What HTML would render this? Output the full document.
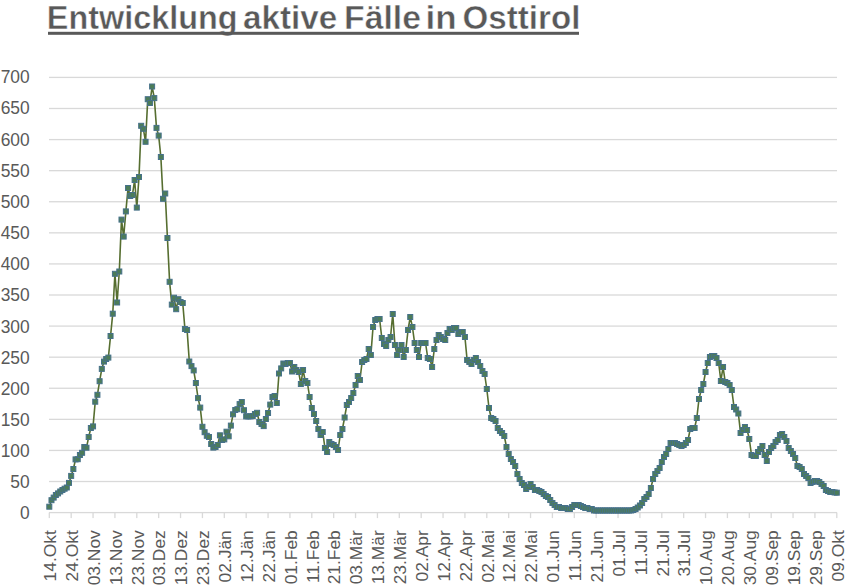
<!DOCTYPE html><html><head><meta charset="utf-8"><style>html,body{margin:0;padding:0;background:#fff;}body{width:852px;height:586px;overflow:hidden;}svg{display:block;}text{font-family:"Liberation Sans",sans-serif;}</style></head><body>
<svg width="852" height="586" viewBox="0 0 852 586">
<rect width="852" height="586" fill="#fff"/>
<text x="46.8" y="28.8" font-size="32.7" font-weight="bold" textLength="190.8" lengthAdjust="spacingAndGlyphs" fill="#595959" stroke="#fff" stroke-width="0.45">Entwicklung</text>
<text x="243.0" y="28.8" font-size="32.7" font-weight="bold" textLength="94.2" lengthAdjust="spacingAndGlyphs" fill="#595959" stroke="#fff" stroke-width="0.45">aktive</text>
<text x="344.0" y="28.8" font-size="32.7" font-weight="bold" textLength="77.0" lengthAdjust="spacingAndGlyphs" fill="#595959" stroke="#fff" stroke-width="0.45">Fälle</text>
<text x="425.5" y="28.8" font-size="32.7" font-weight="bold" textLength="31.1" lengthAdjust="spacingAndGlyphs" fill="#595959" stroke="#fff" stroke-width="0.45">in</text>
<text x="462.6" y="28.8" font-size="32.7" font-weight="bold" textLength="117.8" lengthAdjust="spacingAndGlyphs" fill="#595959" stroke="#fff" stroke-width="0.45">Osttirol</text>
<rect x="48" y="31.8" width="531" height="3" fill="#595959"/>
<rect x="49" y="511.95" width="788" height="1.3" fill="#d9d9d9"/>
<text transform="translate(29.7,512.55) scale(1,1.09)" x="0" y="0" dy="0.36em" text-anchor="end" font-size="17.4" fill="#595959">0</text>
<rect x="49" y="480.87" width="788" height="1.3" fill="#d9d9d9"/>
<text transform="translate(29.7,481.40) scale(1,1.09)" x="0" y="0" dy="0.36em" text-anchor="end" font-size="17.4" fill="#595959">50</text>
<rect x="49" y="449.78" width="788" height="1.3" fill="#d9d9d9"/>
<text transform="translate(29.7,450.26) scale(1,1.09)" x="0" y="0" dy="0.36em" text-anchor="end" font-size="17.4" fill="#595959">100</text>
<rect x="49" y="418.70" width="788" height="1.3" fill="#d9d9d9"/>
<text transform="translate(29.7,419.11) scale(1,1.09)" x="0" y="0" dy="0.36em" text-anchor="end" font-size="17.4" fill="#595959">150</text>
<rect x="49" y="387.61" width="788" height="1.3" fill="#d9d9d9"/>
<text transform="translate(29.7,387.97) scale(1,1.09)" x="0" y="0" dy="0.36em" text-anchor="end" font-size="17.4" fill="#595959">200</text>
<rect x="49" y="356.53" width="788" height="1.3" fill="#d9d9d9"/>
<text transform="translate(29.7,356.82) scale(1,1.09)" x="0" y="0" dy="0.36em" text-anchor="end" font-size="17.4" fill="#595959">250</text>
<rect x="49" y="325.44" width="788" height="1.3" fill="#d9d9d9"/>
<text transform="translate(29.7,325.68) scale(1,1.09)" x="0" y="0" dy="0.36em" text-anchor="end" font-size="17.4" fill="#595959">300</text>
<rect x="49" y="294.36" width="788" height="1.3" fill="#d9d9d9"/>
<text transform="translate(29.7,294.53) scale(1,1.09)" x="0" y="0" dy="0.36em" text-anchor="end" font-size="17.4" fill="#595959">350</text>
<rect x="49" y="263.27" width="788" height="1.3" fill="#d9d9d9"/>
<text transform="translate(29.7,263.39) scale(1,1.09)" x="0" y="0" dy="0.36em" text-anchor="end" font-size="17.4" fill="#595959">400</text>
<rect x="49" y="232.19" width="788" height="1.3" fill="#d9d9d9"/>
<text transform="translate(29.7,232.24) scale(1,1.09)" x="0" y="0" dy="0.36em" text-anchor="end" font-size="17.4" fill="#595959">450</text>
<rect x="49" y="201.10" width="788" height="1.3" fill="#d9d9d9"/>
<text transform="translate(29.7,201.10) scale(1,1.09)" x="0" y="0" dy="0.36em" text-anchor="end" font-size="17.4" fill="#595959">500</text>
<rect x="49" y="170.02" width="788" height="1.3" fill="#d9d9d9"/>
<text transform="translate(29.7,169.95) scale(1,1.09)" x="0" y="0" dy="0.36em" text-anchor="end" font-size="17.4" fill="#595959">550</text>
<rect x="49" y="138.93" width="788" height="1.3" fill="#d9d9d9"/>
<text transform="translate(29.7,138.81) scale(1,1.09)" x="0" y="0" dy="0.36em" text-anchor="end" font-size="17.4" fill="#595959">600</text>
<rect x="49" y="107.84" width="788" height="1.3" fill="#d9d9d9"/>
<text transform="translate(29.7,107.66) scale(1,1.09)" x="0" y="0" dy="0.36em" text-anchor="end" font-size="17.4" fill="#595959">650</text>
<rect x="49" y="76.76" width="788" height="1.3" fill="#d9d9d9"/>
<text transform="translate(29.7,76.52) scale(1,1.09)" x="0" y="0" dy="0.36em" text-anchor="end" font-size="17.4" fill="#595959">700</text>
<rect x="48.65" y="512.6" width="1.3" height="5.5" fill="#d9d9d9"/>
<text transform="translate(49.30,530.2) rotate(-90)" x="0" y="0" dy="6.8" text-anchor="end" font-size="17.4" fill="#595959">14.Okt</text>
<rect x="70.52" y="512.6" width="1.3" height="5.5" fill="#d9d9d9"/>
<text transform="translate(71.17,530.2) rotate(-90)" x="0" y="0" dy="6.8" text-anchor="end" font-size="17.4" fill="#595959">24.Okt</text>
<rect x="92.40" y="512.6" width="1.3" height="5.5" fill="#d9d9d9"/>
<text transform="translate(93.05,530.2) rotate(-90)" x="0" y="0" dy="6.8" text-anchor="end" font-size="17.4" fill="#595959">03.Nov</text>
<rect x="114.27" y="512.6" width="1.3" height="5.5" fill="#d9d9d9"/>
<text transform="translate(114.92,530.2) rotate(-90)" x="0" y="0" dy="6.8" text-anchor="end" font-size="17.4" fill="#595959">13.Nov</text>
<rect x="136.15" y="512.6" width="1.3" height="5.5" fill="#d9d9d9"/>
<text transform="translate(136.80,530.2) rotate(-90)" x="0" y="0" dy="6.8" text-anchor="end" font-size="17.4" fill="#595959">23.Nov</text>
<rect x="158.03" y="512.6" width="1.3" height="5.5" fill="#d9d9d9"/>
<text transform="translate(158.68,530.2) rotate(-90)" x="0" y="0" dy="6.8" text-anchor="end" font-size="17.4" fill="#595959">03.Dez</text>
<rect x="179.90" y="512.6" width="1.3" height="5.5" fill="#d9d9d9"/>
<text transform="translate(180.55,530.2) rotate(-90)" x="0" y="0" dy="6.8" text-anchor="end" font-size="17.4" fill="#595959">13.Dez</text>
<rect x="201.78" y="512.6" width="1.3" height="5.5" fill="#d9d9d9"/>
<text transform="translate(202.43,530.2) rotate(-90)" x="0" y="0" dy="6.8" text-anchor="end" font-size="17.4" fill="#595959">23.Dez</text>
<rect x="223.65" y="512.6" width="1.3" height="5.5" fill="#d9d9d9"/>
<text transform="translate(224.30,530.2) rotate(-90)" x="0" y="0" dy="6.8" text-anchor="end" font-size="17.4" fill="#595959">02.Jän</text>
<rect x="245.53" y="512.6" width="1.3" height="5.5" fill="#d9d9d9"/>
<text transform="translate(246.18,530.2) rotate(-90)" x="0" y="0" dy="6.8" text-anchor="end" font-size="17.4" fill="#595959">12.Jän</text>
<rect x="267.40" y="512.6" width="1.3" height="5.5" fill="#d9d9d9"/>
<text transform="translate(268.05,530.2) rotate(-90)" x="0" y="0" dy="6.8" text-anchor="end" font-size="17.4" fill="#595959">22.Jän</text>
<rect x="289.28" y="512.6" width="1.3" height="5.5" fill="#d9d9d9"/>
<text transform="translate(289.93,530.2) rotate(-90)" x="0" y="0" dy="6.8" text-anchor="end" font-size="17.4" fill="#595959">01.Feb</text>
<rect x="311.15" y="512.6" width="1.3" height="5.5" fill="#d9d9d9"/>
<text transform="translate(311.80,530.2) rotate(-90)" x="0" y="0" dy="6.8" text-anchor="end" font-size="17.4" fill="#595959">11.Feb</text>
<rect x="333.03" y="512.6" width="1.3" height="5.5" fill="#d9d9d9"/>
<text transform="translate(333.68,530.2) rotate(-90)" x="0" y="0" dy="6.8" text-anchor="end" font-size="17.4" fill="#595959">21.Feb</text>
<rect x="354.90" y="512.6" width="1.3" height="5.5" fill="#d9d9d9"/>
<text transform="translate(355.55,530.2) rotate(-90)" x="0" y="0" dy="6.8" text-anchor="end" font-size="17.4" fill="#595959">03.Mär</text>
<rect x="376.78" y="512.6" width="1.3" height="5.5" fill="#d9d9d9"/>
<text transform="translate(377.43,530.2) rotate(-90)" x="0" y="0" dy="6.8" text-anchor="end" font-size="17.4" fill="#595959">13.Mär</text>
<rect x="398.65" y="512.6" width="1.3" height="5.5" fill="#d9d9d9"/>
<text transform="translate(399.30,530.2) rotate(-90)" x="0" y="0" dy="6.8" text-anchor="end" font-size="17.4" fill="#595959">23.Mär</text>
<rect x="420.53" y="512.6" width="1.3" height="5.5" fill="#d9d9d9"/>
<text transform="translate(421.18,530.2) rotate(-90)" x="0" y="0" dy="6.8" text-anchor="end" font-size="17.4" fill="#595959">02.Apr</text>
<rect x="442.40" y="512.6" width="1.3" height="5.5" fill="#d9d9d9"/>
<text transform="translate(443.05,530.2) rotate(-90)" x="0" y="0" dy="6.8" text-anchor="end" font-size="17.4" fill="#595959">12.Apr</text>
<rect x="464.28" y="512.6" width="1.3" height="5.5" fill="#d9d9d9"/>
<text transform="translate(464.93,530.2) rotate(-90)" x="0" y="0" dy="6.8" text-anchor="end" font-size="17.4" fill="#595959">22.Apr</text>
<rect x="486.15" y="512.6" width="1.3" height="5.5" fill="#d9d9d9"/>
<text transform="translate(486.80,530.2) rotate(-90)" x="0" y="0" dy="6.8" text-anchor="end" font-size="17.4" fill="#595959">02.Mai</text>
<rect x="508.03" y="512.6" width="1.3" height="5.5" fill="#d9d9d9"/>
<text transform="translate(508.68,530.2) rotate(-90)" x="0" y="0" dy="6.8" text-anchor="end" font-size="17.4" fill="#595959">12.Mai</text>
<rect x="529.90" y="512.6" width="1.3" height="5.5" fill="#d9d9d9"/>
<text transform="translate(530.55,530.2) rotate(-90)" x="0" y="0" dy="6.8" text-anchor="end" font-size="17.4" fill="#595959">22.Mai</text>
<rect x="551.77" y="512.6" width="1.3" height="5.5" fill="#d9d9d9"/>
<text transform="translate(552.42,530.2) rotate(-90)" x="0" y="0" dy="6.8" text-anchor="end" font-size="17.4" fill="#595959">01.Jun</text>
<rect x="573.65" y="512.6" width="1.3" height="5.5" fill="#d9d9d9"/>
<text transform="translate(574.30,530.2) rotate(-90)" x="0" y="0" dy="6.8" text-anchor="end" font-size="17.4" fill="#595959">11.Jun</text>
<rect x="595.52" y="512.6" width="1.3" height="5.5" fill="#d9d9d9"/>
<text transform="translate(596.17,530.2) rotate(-90)" x="0" y="0" dy="6.8" text-anchor="end" font-size="17.4" fill="#595959">21.Jun</text>
<rect x="617.40" y="512.6" width="1.3" height="5.5" fill="#d9d9d9"/>
<text transform="translate(618.05,530.2) rotate(-90)" x="0" y="0" dy="6.8" text-anchor="end" font-size="17.4" fill="#595959">01.Jul</text>
<rect x="639.27" y="512.6" width="1.3" height="5.5" fill="#d9d9d9"/>
<text transform="translate(639.92,530.2) rotate(-90)" x="0" y="0" dy="6.8" text-anchor="end" font-size="17.4" fill="#595959">11.Jul</text>
<rect x="661.15" y="512.6" width="1.3" height="5.5" fill="#d9d9d9"/>
<text transform="translate(661.80,530.2) rotate(-90)" x="0" y="0" dy="6.8" text-anchor="end" font-size="17.4" fill="#595959">21.Jul</text>
<rect x="683.02" y="512.6" width="1.3" height="5.5" fill="#d9d9d9"/>
<text transform="translate(683.67,530.2) rotate(-90)" x="0" y="0" dy="6.8" text-anchor="end" font-size="17.4" fill="#595959">31.Jul</text>
<rect x="704.90" y="512.6" width="1.3" height="5.5" fill="#d9d9d9"/>
<text transform="translate(705.55,530.2) rotate(-90)" x="0" y="0" dy="6.8" text-anchor="end" font-size="17.4" fill="#595959">10.Aug</text>
<rect x="726.77" y="512.6" width="1.3" height="5.5" fill="#d9d9d9"/>
<text transform="translate(727.42,530.2) rotate(-90)" x="0" y="0" dy="6.8" text-anchor="end" font-size="17.4" fill="#595959">20.Aug</text>
<rect x="748.65" y="512.6" width="1.3" height="5.5" fill="#d9d9d9"/>
<text transform="translate(749.30,530.2) rotate(-90)" x="0" y="0" dy="6.8" text-anchor="end" font-size="17.4" fill="#595959">30.Aug</text>
<rect x="770.52" y="512.6" width="1.3" height="5.5" fill="#d9d9d9"/>
<text transform="translate(771.17,530.2) rotate(-90)" x="0" y="0" dy="6.8" text-anchor="end" font-size="17.4" fill="#595959">09.Sep</text>
<rect x="792.40" y="512.6" width="1.3" height="5.5" fill="#d9d9d9"/>
<text transform="translate(793.05,530.2) rotate(-90)" x="0" y="0" dy="6.8" text-anchor="end" font-size="17.4" fill="#595959">19.Sep</text>
<rect x="814.27" y="512.6" width="1.3" height="5.5" fill="#d9d9d9"/>
<text transform="translate(814.92,530.2) rotate(-90)" x="0" y="0" dy="6.8" text-anchor="end" font-size="17.4" fill="#595959">29.Sep</text>
<rect x="836.15" y="512.6" width="1.3" height="5.5" fill="#d9d9d9"/>
<text transform="translate(836.80,530.2) rotate(-90)" x="0" y="0" dy="6.8" text-anchor="end" font-size="17.4" fill="#595959">09.Okt</text>
<polyline points="49.30,506.70 51.49,500.20 53.67,497.60 55.86,495.00 58.05,493.40 60.24,491.50 62.42,490.00 64.61,488.70 66.80,487.50 68.99,482.90 71.17,475.90 73.36,469.00 75.55,459.40 77.74,459.20 79.92,455.00 82.11,452.80 84.30,447.00 86.49,447.70 88.67,437.00 90.86,428.00 93.05,426.40 95.24,401.70 97.42,394.80 99.61,381.20 101.80,368.90 103.99,361.60 106.17,359.00 108.36,357.60 110.55,336.00 112.74,313.70 114.92,273.80 117.11,302.50 119.30,271.50 121.49,219.60 123.67,236.60 125.86,211.40 128.05,188.00 130.24,196.00 132.43,195.00 134.61,180.00 136.80,207.60 138.99,177.00 141.18,125.80 143.36,128.80 145.55,141.80 147.74,99.20 149.93,103.00 152.11,86.50 154.30,98.10 156.49,127.90 158.68,135.60 160.86,157.00 163.05,198.80 165.24,193.50 167.43,238.00 169.61,281.80 171.80,304.60 173.99,297.70 176.18,309.20 178.36,299.20 180.55,302.00 182.74,303.00 184.93,329.00 187.11,330.00 189.30,361.50 191.49,366.10 193.68,370.40 195.86,383.00 198.05,398.10 200.24,407.60 202.43,426.80 204.61,432.20 206.80,435.80 208.99,437.00 211.18,444.00 213.36,447.60 215.55,447.00 217.74,445.00 219.93,435.30 222.11,440.00 224.30,439.40 226.49,431.70 228.68,436.30 230.86,425.60 233.05,414.30 235.24,410.00 237.43,409.20 239.61,404.10 241.80,402.00 243.99,410.20 246.18,416.40 248.36,416.40 250.55,416.40 252.74,416.00 254.93,414.00 257.11,412.80 259.30,422.00 261.49,424.00 263.68,426.10 265.86,419.00 268.05,413.00 270.24,404.60 272.43,397.00 274.61,396.00 276.80,403.00 278.99,373.50 281.18,368.40 283.36,363.50 285.55,364.00 287.74,363.00 289.93,363.00 292.11,371.50 294.30,367.00 296.49,370.00 298.68,372.00 300.86,384.00 303.05,370.00 305.24,381.00 307.43,383.00 309.61,397.00 311.80,408.00 313.99,414.00 316.18,421.00 318.36,429.00 320.55,435.00 322.74,432.00 324.93,448.00 327.11,452.00 329.30,442.00 331.49,444.00 333.68,445.00 335.86,447.00 338.05,450.00 340.24,435.00 342.43,429.00 344.61,417.50 346.80,405.00 348.99,402.00 351.18,398.00 353.36,393.00 355.55,385.00 357.74,376.00 359.93,380.00 362.11,362.00 364.30,360.00 366.49,359.00 368.68,349.00 370.86,355.00 373.05,327.00 375.24,320.00 377.43,319.00 379.61,319.00 381.80,338.00 383.99,344.00 386.18,346.00 388.36,340.00 390.55,337.00 392.74,314.00 394.93,345.00 397.11,355.00 399.30,350.00 401.49,345.00 403.68,357.00 405.86,350.00 408.05,330.00 410.24,317.00 412.43,327.00 414.61,343.00 416.80,350.00 418.99,357.00 421.18,343.00 423.36,343.00 425.55,343.00 427.74,358.00 429.93,359.00 432.11,367.00 434.30,349.00 436.49,340.00 438.68,335.00 440.86,337.00 443.05,339.00 445.24,340.00 447.43,333.00 449.61,329.00 451.80,330.00 453.99,328.00 456.18,328.00 458.36,334.00 460.55,332.00 462.74,332.00 464.93,337.00 467.11,360.00 469.30,362.00 471.49,364.00 473.68,360.00 475.86,358.00 478.05,362.00 480.24,366.00 482.43,371.00 484.61,374.00 486.80,389.00 488.99,408.00 491.18,418.00 493.36,419.00 495.55,421.00 497.74,428.00 499.93,431.00 502.11,433.00 504.30,436.00 506.49,447.00 508.68,454.00 510.86,459.00 513.05,462.00 515.24,466.00 517.42,474.00 519.61,479.00 521.80,483.00 523.99,485.00 526.17,489.00 528.36,487.00 530.55,484.00 532.74,487.00 534.92,490.00 537.11,490.00 539.30,491.00 541.49,492.00 543.67,494.00 545.86,496.00 548.05,497.00 550.24,500.00 552.42,503.00 554.61,505.00 556.80,507.00 558.99,507.00 561.17,508.00 563.36,508.00 565.55,508.00 567.74,509.00 569.92,509.00 572.11,507.00 574.30,505.00 576.49,505.00 578.67,505.00 580.86,506.00 583.05,507.00 585.24,508.00 587.42,508.00 589.61,509.00 591.80,509.00 593.99,510.50 596.17,510.50 598.36,510.50 600.55,510.50 602.74,510.50 604.92,510.50 607.11,510.50 609.30,510.50 611.49,510.50 613.67,510.50 615.86,510.50 618.05,510.50 620.24,510.50 622.42,510.50 624.61,510.50 626.80,510.50 628.99,510.50 631.17,510.50 633.36,510.00 635.55,509.00 637.74,507.50 639.92,505.50 642.11,503.00 644.30,499.00 646.49,497.00 648.67,494.00 650.86,488.00 653.05,479.00 655.24,474.00 657.42,471.00 659.61,468.00 661.80,462.00 663.99,457.00 666.17,454.00 668.36,449.00 670.55,443.00 672.74,443.00 674.92,443.00 677.11,444.00 679.30,445.00 681.49,446.00 683.67,445.00 685.86,443.00 688.05,440.00 690.24,429.00 692.42,428.00 694.61,428.00 696.80,418.00 698.99,399.00 701.17,390.00 703.36,384.00 705.55,372.00 707.74,363.00 709.92,357.00 712.11,356.00 714.30,356.00 716.49,358.00 718.67,363.00 720.86,381.00 723.05,367.00 725.24,382.00 727.42,383.00 729.61,385.00 731.80,390.00 733.99,407.00 736.17,409.50 738.36,413.50 740.55,433.00 742.74,430.00 744.92,427.00 747.11,430.00 749.30,439.00 751.49,455.00 753.67,456.00 755.86,456.00 758.05,452.00 760.24,449.00 762.42,446.00 764.61,455.00 766.80,461.00 768.99,452.00 771.17,448.00 773.36,446.00 775.55,442.00 777.74,440.00 779.92,435.00 782.11,434.00 784.30,437.00 786.49,441.00 788.67,448.00 790.86,451.00 793.05,454.00 795.24,458.00 797.42,466.00 799.61,467.00 801.80,469.00 803.99,474.00 806.17,476.00 808.36,478.00 810.55,483.00 812.74,482.00 814.92,481.00 817.11,481.00 819.30,482.00 821.49,484.00 823.67,486.00 825.86,490.00 828.05,491.00 830.24,492.00 832.42,492.00 834.61,492.50 836.80,492.70" fill="none" stroke="#566e30" stroke-width="1.6" stroke-linejoin="round"/>
<rect x="46.80" y="504.20" width="5.0" height="5.0" fill="#4c7c58" stroke="#46718a" stroke-width="1"/>
<rect x="48.99" y="497.70" width="5.0" height="5.0" fill="#4c7c58" stroke="#46718a" stroke-width="1"/>
<rect x="51.17" y="495.10" width="5.0" height="5.0" fill="#4c7c58" stroke="#46718a" stroke-width="1"/>
<rect x="53.36" y="492.50" width="5.0" height="5.0" fill="#4c7c58" stroke="#46718a" stroke-width="1"/>
<rect x="55.55" y="490.90" width="5.0" height="5.0" fill="#4c7c58" stroke="#46718a" stroke-width="1"/>
<rect x="57.74" y="489.00" width="5.0" height="5.0" fill="#4c7c58" stroke="#46718a" stroke-width="1"/>
<rect x="59.92" y="487.50" width="5.0" height="5.0" fill="#4c7c58" stroke="#46718a" stroke-width="1"/>
<rect x="62.11" y="486.20" width="5.0" height="5.0" fill="#4c7c58" stroke="#46718a" stroke-width="1"/>
<rect x="64.30" y="485.00" width="5.0" height="5.0" fill="#4c7c58" stroke="#46718a" stroke-width="1"/>
<rect x="66.49" y="480.40" width="5.0" height="5.0" fill="#4c7c58" stroke="#46718a" stroke-width="1"/>
<rect x="68.67" y="473.40" width="5.0" height="5.0" fill="#4c7c58" stroke="#46718a" stroke-width="1"/>
<rect x="70.86" y="466.50" width="5.0" height="5.0" fill="#4c7c58" stroke="#46718a" stroke-width="1"/>
<rect x="73.05" y="456.90" width="5.0" height="5.0" fill="#4c7c58" stroke="#46718a" stroke-width="1"/>
<rect x="75.24" y="456.70" width="5.0" height="5.0" fill="#4c7c58" stroke="#46718a" stroke-width="1"/>
<rect x="77.42" y="452.50" width="5.0" height="5.0" fill="#4c7c58" stroke="#46718a" stroke-width="1"/>
<rect x="79.61" y="450.30" width="5.0" height="5.0" fill="#4c7c58" stroke="#46718a" stroke-width="1"/>
<rect x="81.80" y="444.50" width="5.0" height="5.0" fill="#4c7c58" stroke="#46718a" stroke-width="1"/>
<rect x="83.99" y="445.20" width="5.0" height="5.0" fill="#4c7c58" stroke="#46718a" stroke-width="1"/>
<rect x="86.17" y="434.50" width="5.0" height="5.0" fill="#4c7c58" stroke="#46718a" stroke-width="1"/>
<rect x="88.36" y="425.50" width="5.0" height="5.0" fill="#4c7c58" stroke="#46718a" stroke-width="1"/>
<rect x="90.55" y="423.90" width="5.0" height="5.0" fill="#4c7c58" stroke="#46718a" stroke-width="1"/>
<rect x="92.74" y="399.20" width="5.0" height="5.0" fill="#4c7c58" stroke="#46718a" stroke-width="1"/>
<rect x="94.92" y="392.30" width="5.0" height="5.0" fill="#4c7c58" stroke="#46718a" stroke-width="1"/>
<rect x="97.11" y="378.70" width="5.0" height="5.0" fill="#4c7c58" stroke="#46718a" stroke-width="1"/>
<rect x="99.30" y="366.40" width="5.0" height="5.0" fill="#4c7c58" stroke="#46718a" stroke-width="1"/>
<rect x="101.49" y="359.10" width="5.0" height="5.0" fill="#4c7c58" stroke="#46718a" stroke-width="1"/>
<rect x="103.67" y="356.50" width="5.0" height="5.0" fill="#4c7c58" stroke="#46718a" stroke-width="1"/>
<rect x="105.86" y="355.10" width="5.0" height="5.0" fill="#4c7c58" stroke="#46718a" stroke-width="1"/>
<rect x="108.05" y="333.50" width="5.0" height="5.0" fill="#4c7c58" stroke="#46718a" stroke-width="1"/>
<rect x="110.24" y="311.20" width="5.0" height="5.0" fill="#4c7c58" stroke="#46718a" stroke-width="1"/>
<rect x="112.42" y="271.30" width="5.0" height="5.0" fill="#4c7c58" stroke="#46718a" stroke-width="1"/>
<rect x="114.61" y="300.00" width="5.0" height="5.0" fill="#4c7c58" stroke="#46718a" stroke-width="1"/>
<rect x="116.80" y="269.00" width="5.0" height="5.0" fill="#4c7c58" stroke="#46718a" stroke-width="1"/>
<rect x="118.99" y="217.10" width="5.0" height="5.0" fill="#4c7c58" stroke="#46718a" stroke-width="1"/>
<rect x="121.17" y="234.10" width="5.0" height="5.0" fill="#4c7c58" stroke="#46718a" stroke-width="1"/>
<rect x="123.36" y="208.90" width="5.0" height="5.0" fill="#4c7c58" stroke="#46718a" stroke-width="1"/>
<rect x="125.55" y="185.50" width="5.0" height="5.0" fill="#4c7c58" stroke="#46718a" stroke-width="1"/>
<rect x="127.74" y="193.50" width="5.0" height="5.0" fill="#4c7c58" stroke="#46718a" stroke-width="1"/>
<rect x="129.93" y="192.50" width="5.0" height="5.0" fill="#4c7c58" stroke="#46718a" stroke-width="1"/>
<rect x="132.11" y="177.50" width="5.0" height="5.0" fill="#4c7c58" stroke="#46718a" stroke-width="1"/>
<rect x="134.30" y="205.10" width="5.0" height="5.0" fill="#4c7c58" stroke="#46718a" stroke-width="1"/>
<rect x="136.49" y="174.50" width="5.0" height="5.0" fill="#4c7c58" stroke="#46718a" stroke-width="1"/>
<rect x="138.68" y="123.30" width="5.0" height="5.0" fill="#4c7c58" stroke="#46718a" stroke-width="1"/>
<rect x="140.86" y="126.30" width="5.0" height="5.0" fill="#4c7c58" stroke="#46718a" stroke-width="1"/>
<rect x="143.05" y="139.30" width="5.0" height="5.0" fill="#4c7c58" stroke="#46718a" stroke-width="1"/>
<rect x="145.24" y="96.70" width="5.0" height="5.0" fill="#4c7c58" stroke="#46718a" stroke-width="1"/>
<rect x="147.43" y="100.50" width="5.0" height="5.0" fill="#4c7c58" stroke="#46718a" stroke-width="1"/>
<rect x="149.61" y="84.00" width="5.0" height="5.0" fill="#4c7c58" stroke="#46718a" stroke-width="1"/>
<rect x="151.80" y="95.60" width="5.0" height="5.0" fill="#4c7c58" stroke="#46718a" stroke-width="1"/>
<rect x="153.99" y="125.40" width="5.0" height="5.0" fill="#4c7c58" stroke="#46718a" stroke-width="1"/>
<rect x="156.18" y="133.10" width="5.0" height="5.0" fill="#4c7c58" stroke="#46718a" stroke-width="1"/>
<rect x="158.36" y="154.50" width="5.0" height="5.0" fill="#4c7c58" stroke="#46718a" stroke-width="1"/>
<rect x="160.55" y="196.30" width="5.0" height="5.0" fill="#4c7c58" stroke="#46718a" stroke-width="1"/>
<rect x="162.74" y="191.00" width="5.0" height="5.0" fill="#4c7c58" stroke="#46718a" stroke-width="1"/>
<rect x="164.93" y="235.50" width="5.0" height="5.0" fill="#4c7c58" stroke="#46718a" stroke-width="1"/>
<rect x="167.11" y="279.30" width="5.0" height="5.0" fill="#4c7c58" stroke="#46718a" stroke-width="1"/>
<rect x="169.30" y="302.10" width="5.0" height="5.0" fill="#4c7c58" stroke="#46718a" stroke-width="1"/>
<rect x="171.49" y="295.20" width="5.0" height="5.0" fill="#4c7c58" stroke="#46718a" stroke-width="1"/>
<rect x="173.68" y="306.70" width="5.0" height="5.0" fill="#4c7c58" stroke="#46718a" stroke-width="1"/>
<rect x="175.86" y="296.70" width="5.0" height="5.0" fill="#4c7c58" stroke="#46718a" stroke-width="1"/>
<rect x="178.05" y="299.50" width="5.0" height="5.0" fill="#4c7c58" stroke="#46718a" stroke-width="1"/>
<rect x="180.24" y="300.50" width="5.0" height="5.0" fill="#4c7c58" stroke="#46718a" stroke-width="1"/>
<rect x="182.43" y="326.50" width="5.0" height="5.0" fill="#4c7c58" stroke="#46718a" stroke-width="1"/>
<rect x="184.61" y="327.50" width="5.0" height="5.0" fill="#4c7c58" stroke="#46718a" stroke-width="1"/>
<rect x="186.80" y="359.00" width="5.0" height="5.0" fill="#4c7c58" stroke="#46718a" stroke-width="1"/>
<rect x="188.99" y="363.60" width="5.0" height="5.0" fill="#4c7c58" stroke="#46718a" stroke-width="1"/>
<rect x="191.18" y="367.90" width="5.0" height="5.0" fill="#4c7c58" stroke="#46718a" stroke-width="1"/>
<rect x="193.36" y="380.50" width="5.0" height="5.0" fill="#4c7c58" stroke="#46718a" stroke-width="1"/>
<rect x="195.55" y="395.60" width="5.0" height="5.0" fill="#4c7c58" stroke="#46718a" stroke-width="1"/>
<rect x="197.74" y="405.10" width="5.0" height="5.0" fill="#4c7c58" stroke="#46718a" stroke-width="1"/>
<rect x="199.93" y="424.30" width="5.0" height="5.0" fill="#4c7c58" stroke="#46718a" stroke-width="1"/>
<rect x="202.11" y="429.70" width="5.0" height="5.0" fill="#4c7c58" stroke="#46718a" stroke-width="1"/>
<rect x="204.30" y="433.30" width="5.0" height="5.0" fill="#4c7c58" stroke="#46718a" stroke-width="1"/>
<rect x="206.49" y="434.50" width="5.0" height="5.0" fill="#4c7c58" stroke="#46718a" stroke-width="1"/>
<rect x="208.68" y="441.50" width="5.0" height="5.0" fill="#4c7c58" stroke="#46718a" stroke-width="1"/>
<rect x="210.86" y="445.10" width="5.0" height="5.0" fill="#4c7c58" stroke="#46718a" stroke-width="1"/>
<rect x="213.05" y="444.50" width="5.0" height="5.0" fill="#4c7c58" stroke="#46718a" stroke-width="1"/>
<rect x="215.24" y="442.50" width="5.0" height="5.0" fill="#4c7c58" stroke="#46718a" stroke-width="1"/>
<rect x="217.43" y="432.80" width="5.0" height="5.0" fill="#4c7c58" stroke="#46718a" stroke-width="1"/>
<rect x="219.61" y="437.50" width="5.0" height="5.0" fill="#4c7c58" stroke="#46718a" stroke-width="1"/>
<rect x="221.80" y="436.90" width="5.0" height="5.0" fill="#4c7c58" stroke="#46718a" stroke-width="1"/>
<rect x="223.99" y="429.20" width="5.0" height="5.0" fill="#4c7c58" stroke="#46718a" stroke-width="1"/>
<rect x="226.18" y="433.80" width="5.0" height="5.0" fill="#4c7c58" stroke="#46718a" stroke-width="1"/>
<rect x="228.36" y="423.10" width="5.0" height="5.0" fill="#4c7c58" stroke="#46718a" stroke-width="1"/>
<rect x="230.55" y="411.80" width="5.0" height="5.0" fill="#4c7c58" stroke="#46718a" stroke-width="1"/>
<rect x="232.74" y="407.50" width="5.0" height="5.0" fill="#4c7c58" stroke="#46718a" stroke-width="1"/>
<rect x="234.93" y="406.70" width="5.0" height="5.0" fill="#4c7c58" stroke="#46718a" stroke-width="1"/>
<rect x="237.11" y="401.60" width="5.0" height="5.0" fill="#4c7c58" stroke="#46718a" stroke-width="1"/>
<rect x="239.30" y="399.50" width="5.0" height="5.0" fill="#4c7c58" stroke="#46718a" stroke-width="1"/>
<rect x="241.49" y="407.70" width="5.0" height="5.0" fill="#4c7c58" stroke="#46718a" stroke-width="1"/>
<rect x="243.68" y="413.90" width="5.0" height="5.0" fill="#4c7c58" stroke="#46718a" stroke-width="1"/>
<rect x="245.86" y="413.90" width="5.0" height="5.0" fill="#4c7c58" stroke="#46718a" stroke-width="1"/>
<rect x="248.05" y="413.90" width="5.0" height="5.0" fill="#4c7c58" stroke="#46718a" stroke-width="1"/>
<rect x="250.24" y="413.50" width="5.0" height="5.0" fill="#4c7c58" stroke="#46718a" stroke-width="1"/>
<rect x="252.43" y="411.50" width="5.0" height="5.0" fill="#4c7c58" stroke="#46718a" stroke-width="1"/>
<rect x="254.61" y="410.30" width="5.0" height="5.0" fill="#4c7c58" stroke="#46718a" stroke-width="1"/>
<rect x="256.80" y="419.50" width="5.0" height="5.0" fill="#4c7c58" stroke="#46718a" stroke-width="1"/>
<rect x="258.99" y="421.50" width="5.0" height="5.0" fill="#4c7c58" stroke="#46718a" stroke-width="1"/>
<rect x="261.18" y="423.60" width="5.0" height="5.0" fill="#4c7c58" stroke="#46718a" stroke-width="1"/>
<rect x="263.36" y="416.50" width="5.0" height="5.0" fill="#4c7c58" stroke="#46718a" stroke-width="1"/>
<rect x="265.55" y="410.50" width="5.0" height="5.0" fill="#4c7c58" stroke="#46718a" stroke-width="1"/>
<rect x="267.74" y="402.10" width="5.0" height="5.0" fill="#4c7c58" stroke="#46718a" stroke-width="1"/>
<rect x="269.93" y="394.50" width="5.0" height="5.0" fill="#4c7c58" stroke="#46718a" stroke-width="1"/>
<rect x="272.11" y="393.50" width="5.0" height="5.0" fill="#4c7c58" stroke="#46718a" stroke-width="1"/>
<rect x="274.30" y="400.50" width="5.0" height="5.0" fill="#4c7c58" stroke="#46718a" stroke-width="1"/>
<rect x="276.49" y="371.00" width="5.0" height="5.0" fill="#4c7c58" stroke="#46718a" stroke-width="1"/>
<rect x="278.68" y="365.90" width="5.0" height="5.0" fill="#4c7c58" stroke="#46718a" stroke-width="1"/>
<rect x="280.86" y="361.00" width="5.0" height="5.0" fill="#4c7c58" stroke="#46718a" stroke-width="1"/>
<rect x="283.05" y="361.50" width="5.0" height="5.0" fill="#4c7c58" stroke="#46718a" stroke-width="1"/>
<rect x="285.24" y="360.50" width="5.0" height="5.0" fill="#4c7c58" stroke="#46718a" stroke-width="1"/>
<rect x="287.43" y="360.50" width="5.0" height="5.0" fill="#4c7c58" stroke="#46718a" stroke-width="1"/>
<rect x="289.61" y="369.00" width="5.0" height="5.0" fill="#4c7c58" stroke="#46718a" stroke-width="1"/>
<rect x="291.80" y="364.50" width="5.0" height="5.0" fill="#4c7c58" stroke="#46718a" stroke-width="1"/>
<rect x="293.99" y="367.50" width="5.0" height="5.0" fill="#4c7c58" stroke="#46718a" stroke-width="1"/>
<rect x="296.18" y="369.50" width="5.0" height="5.0" fill="#4c7c58" stroke="#46718a" stroke-width="1"/>
<rect x="298.36" y="381.50" width="5.0" height="5.0" fill="#4c7c58" stroke="#46718a" stroke-width="1"/>
<rect x="300.55" y="367.50" width="5.0" height="5.0" fill="#4c7c58" stroke="#46718a" stroke-width="1"/>
<rect x="302.74" y="378.50" width="5.0" height="5.0" fill="#4c7c58" stroke="#46718a" stroke-width="1"/>
<rect x="304.93" y="380.50" width="5.0" height="5.0" fill="#4c7c58" stroke="#46718a" stroke-width="1"/>
<rect x="307.11" y="394.50" width="5.0" height="5.0" fill="#4c7c58" stroke="#46718a" stroke-width="1"/>
<rect x="309.30" y="405.50" width="5.0" height="5.0" fill="#4c7c58" stroke="#46718a" stroke-width="1"/>
<rect x="311.49" y="411.50" width="5.0" height="5.0" fill="#4c7c58" stroke="#46718a" stroke-width="1"/>
<rect x="313.68" y="418.50" width="5.0" height="5.0" fill="#4c7c58" stroke="#46718a" stroke-width="1"/>
<rect x="315.86" y="426.50" width="5.0" height="5.0" fill="#4c7c58" stroke="#46718a" stroke-width="1"/>
<rect x="318.05" y="432.50" width="5.0" height="5.0" fill="#4c7c58" stroke="#46718a" stroke-width="1"/>
<rect x="320.24" y="429.50" width="5.0" height="5.0" fill="#4c7c58" stroke="#46718a" stroke-width="1"/>
<rect x="322.43" y="445.50" width="5.0" height="5.0" fill="#4c7c58" stroke="#46718a" stroke-width="1"/>
<rect x="324.61" y="449.50" width="5.0" height="5.0" fill="#4c7c58" stroke="#46718a" stroke-width="1"/>
<rect x="326.80" y="439.50" width="5.0" height="5.0" fill="#4c7c58" stroke="#46718a" stroke-width="1"/>
<rect x="328.99" y="441.50" width="5.0" height="5.0" fill="#4c7c58" stroke="#46718a" stroke-width="1"/>
<rect x="331.18" y="442.50" width="5.0" height="5.0" fill="#4c7c58" stroke="#46718a" stroke-width="1"/>
<rect x="333.36" y="444.50" width="5.0" height="5.0" fill="#4c7c58" stroke="#46718a" stroke-width="1"/>
<rect x="335.55" y="447.50" width="5.0" height="5.0" fill="#4c7c58" stroke="#46718a" stroke-width="1"/>
<rect x="337.74" y="432.50" width="5.0" height="5.0" fill="#4c7c58" stroke="#46718a" stroke-width="1"/>
<rect x="339.93" y="426.50" width="5.0" height="5.0" fill="#4c7c58" stroke="#46718a" stroke-width="1"/>
<rect x="342.11" y="415.00" width="5.0" height="5.0" fill="#4c7c58" stroke="#46718a" stroke-width="1"/>
<rect x="344.30" y="402.50" width="5.0" height="5.0" fill="#4c7c58" stroke="#46718a" stroke-width="1"/>
<rect x="346.49" y="399.50" width="5.0" height="5.0" fill="#4c7c58" stroke="#46718a" stroke-width="1"/>
<rect x="348.68" y="395.50" width="5.0" height="5.0" fill="#4c7c58" stroke="#46718a" stroke-width="1"/>
<rect x="350.86" y="390.50" width="5.0" height="5.0" fill="#4c7c58" stroke="#46718a" stroke-width="1"/>
<rect x="353.05" y="382.50" width="5.0" height="5.0" fill="#4c7c58" stroke="#46718a" stroke-width="1"/>
<rect x="355.24" y="373.50" width="5.0" height="5.0" fill="#4c7c58" stroke="#46718a" stroke-width="1"/>
<rect x="357.43" y="377.50" width="5.0" height="5.0" fill="#4c7c58" stroke="#46718a" stroke-width="1"/>
<rect x="359.61" y="359.50" width="5.0" height="5.0" fill="#4c7c58" stroke="#46718a" stroke-width="1"/>
<rect x="361.80" y="357.50" width="5.0" height="5.0" fill="#4c7c58" stroke="#46718a" stroke-width="1"/>
<rect x="363.99" y="356.50" width="5.0" height="5.0" fill="#4c7c58" stroke="#46718a" stroke-width="1"/>
<rect x="366.18" y="346.50" width="5.0" height="5.0" fill="#4c7c58" stroke="#46718a" stroke-width="1"/>
<rect x="368.36" y="352.50" width="5.0" height="5.0" fill="#4c7c58" stroke="#46718a" stroke-width="1"/>
<rect x="370.55" y="324.50" width="5.0" height="5.0" fill="#4c7c58" stroke="#46718a" stroke-width="1"/>
<rect x="372.74" y="317.50" width="5.0" height="5.0" fill="#4c7c58" stroke="#46718a" stroke-width="1"/>
<rect x="374.93" y="316.50" width="5.0" height="5.0" fill="#4c7c58" stroke="#46718a" stroke-width="1"/>
<rect x="377.11" y="316.50" width="5.0" height="5.0" fill="#4c7c58" stroke="#46718a" stroke-width="1"/>
<rect x="379.30" y="335.50" width="5.0" height="5.0" fill="#4c7c58" stroke="#46718a" stroke-width="1"/>
<rect x="381.49" y="341.50" width="5.0" height="5.0" fill="#4c7c58" stroke="#46718a" stroke-width="1"/>
<rect x="383.68" y="343.50" width="5.0" height="5.0" fill="#4c7c58" stroke="#46718a" stroke-width="1"/>
<rect x="385.86" y="337.50" width="5.0" height="5.0" fill="#4c7c58" stroke="#46718a" stroke-width="1"/>
<rect x="388.05" y="334.50" width="5.0" height="5.0" fill="#4c7c58" stroke="#46718a" stroke-width="1"/>
<rect x="390.24" y="311.50" width="5.0" height="5.0" fill="#4c7c58" stroke="#46718a" stroke-width="1"/>
<rect x="392.43" y="342.50" width="5.0" height="5.0" fill="#4c7c58" stroke="#46718a" stroke-width="1"/>
<rect x="394.61" y="352.50" width="5.0" height="5.0" fill="#4c7c58" stroke="#46718a" stroke-width="1"/>
<rect x="396.80" y="347.50" width="5.0" height="5.0" fill="#4c7c58" stroke="#46718a" stroke-width="1"/>
<rect x="398.99" y="342.50" width="5.0" height="5.0" fill="#4c7c58" stroke="#46718a" stroke-width="1"/>
<rect x="401.18" y="354.50" width="5.0" height="5.0" fill="#4c7c58" stroke="#46718a" stroke-width="1"/>
<rect x="403.36" y="347.50" width="5.0" height="5.0" fill="#4c7c58" stroke="#46718a" stroke-width="1"/>
<rect x="405.55" y="327.50" width="5.0" height="5.0" fill="#4c7c58" stroke="#46718a" stroke-width="1"/>
<rect x="407.74" y="314.50" width="5.0" height="5.0" fill="#4c7c58" stroke="#46718a" stroke-width="1"/>
<rect x="409.93" y="324.50" width="5.0" height="5.0" fill="#4c7c58" stroke="#46718a" stroke-width="1"/>
<rect x="412.11" y="340.50" width="5.0" height="5.0" fill="#4c7c58" stroke="#46718a" stroke-width="1"/>
<rect x="414.30" y="347.50" width="5.0" height="5.0" fill="#4c7c58" stroke="#46718a" stroke-width="1"/>
<rect x="416.49" y="354.50" width="5.0" height="5.0" fill="#4c7c58" stroke="#46718a" stroke-width="1"/>
<rect x="418.68" y="340.50" width="5.0" height="5.0" fill="#4c7c58" stroke="#46718a" stroke-width="1"/>
<rect x="420.86" y="340.50" width="5.0" height="5.0" fill="#4c7c58" stroke="#46718a" stroke-width="1"/>
<rect x="423.05" y="340.50" width="5.0" height="5.0" fill="#4c7c58" stroke="#46718a" stroke-width="1"/>
<rect x="425.24" y="355.50" width="5.0" height="5.0" fill="#4c7c58" stroke="#46718a" stroke-width="1"/>
<rect x="427.43" y="356.50" width="5.0" height="5.0" fill="#4c7c58" stroke="#46718a" stroke-width="1"/>
<rect x="429.61" y="364.50" width="5.0" height="5.0" fill="#4c7c58" stroke="#46718a" stroke-width="1"/>
<rect x="431.80" y="346.50" width="5.0" height="5.0" fill="#4c7c58" stroke="#46718a" stroke-width="1"/>
<rect x="433.99" y="337.50" width="5.0" height="5.0" fill="#4c7c58" stroke="#46718a" stroke-width="1"/>
<rect x="436.18" y="332.50" width="5.0" height="5.0" fill="#4c7c58" stroke="#46718a" stroke-width="1"/>
<rect x="438.36" y="334.50" width="5.0" height="5.0" fill="#4c7c58" stroke="#46718a" stroke-width="1"/>
<rect x="440.55" y="336.50" width="5.0" height="5.0" fill="#4c7c58" stroke="#46718a" stroke-width="1"/>
<rect x="442.74" y="337.50" width="5.0" height="5.0" fill="#4c7c58" stroke="#46718a" stroke-width="1"/>
<rect x="444.93" y="330.50" width="5.0" height="5.0" fill="#4c7c58" stroke="#46718a" stroke-width="1"/>
<rect x="447.11" y="326.50" width="5.0" height="5.0" fill="#4c7c58" stroke="#46718a" stroke-width="1"/>
<rect x="449.30" y="327.50" width="5.0" height="5.0" fill="#4c7c58" stroke="#46718a" stroke-width="1"/>
<rect x="451.49" y="325.50" width="5.0" height="5.0" fill="#4c7c58" stroke="#46718a" stroke-width="1"/>
<rect x="453.68" y="325.50" width="5.0" height="5.0" fill="#4c7c58" stroke="#46718a" stroke-width="1"/>
<rect x="455.86" y="331.50" width="5.0" height="5.0" fill="#4c7c58" stroke="#46718a" stroke-width="1"/>
<rect x="458.05" y="329.50" width="5.0" height="5.0" fill="#4c7c58" stroke="#46718a" stroke-width="1"/>
<rect x="460.24" y="329.50" width="5.0" height="5.0" fill="#4c7c58" stroke="#46718a" stroke-width="1"/>
<rect x="462.43" y="334.50" width="5.0" height="5.0" fill="#4c7c58" stroke="#46718a" stroke-width="1"/>
<rect x="464.61" y="357.50" width="5.0" height="5.0" fill="#4c7c58" stroke="#46718a" stroke-width="1"/>
<rect x="466.80" y="359.50" width="5.0" height="5.0" fill="#4c7c58" stroke="#46718a" stroke-width="1"/>
<rect x="468.99" y="361.50" width="5.0" height="5.0" fill="#4c7c58" stroke="#46718a" stroke-width="1"/>
<rect x="471.18" y="357.50" width="5.0" height="5.0" fill="#4c7c58" stroke="#46718a" stroke-width="1"/>
<rect x="473.36" y="355.50" width="5.0" height="5.0" fill="#4c7c58" stroke="#46718a" stroke-width="1"/>
<rect x="475.55" y="359.50" width="5.0" height="5.0" fill="#4c7c58" stroke="#46718a" stroke-width="1"/>
<rect x="477.74" y="363.50" width="5.0" height="5.0" fill="#4c7c58" stroke="#46718a" stroke-width="1"/>
<rect x="479.93" y="368.50" width="5.0" height="5.0" fill="#4c7c58" stroke="#46718a" stroke-width="1"/>
<rect x="482.11" y="371.50" width="5.0" height="5.0" fill="#4c7c58" stroke="#46718a" stroke-width="1"/>
<rect x="484.30" y="386.50" width="5.0" height="5.0" fill="#4c7c58" stroke="#46718a" stroke-width="1"/>
<rect x="486.49" y="405.50" width="5.0" height="5.0" fill="#4c7c58" stroke="#46718a" stroke-width="1"/>
<rect x="488.68" y="415.50" width="5.0" height="5.0" fill="#4c7c58" stroke="#46718a" stroke-width="1"/>
<rect x="490.86" y="416.50" width="5.0" height="5.0" fill="#4c7c58" stroke="#46718a" stroke-width="1"/>
<rect x="493.05" y="418.50" width="5.0" height="5.0" fill="#4c7c58" stroke="#46718a" stroke-width="1"/>
<rect x="495.24" y="425.50" width="5.0" height="5.0" fill="#4c7c58" stroke="#46718a" stroke-width="1"/>
<rect x="497.43" y="428.50" width="5.0" height="5.0" fill="#4c7c58" stroke="#46718a" stroke-width="1"/>
<rect x="499.61" y="430.50" width="5.0" height="5.0" fill="#4c7c58" stroke="#46718a" stroke-width="1"/>
<rect x="501.80" y="433.50" width="5.0" height="5.0" fill="#4c7c58" stroke="#46718a" stroke-width="1"/>
<rect x="503.99" y="444.50" width="5.0" height="5.0" fill="#4c7c58" stroke="#46718a" stroke-width="1"/>
<rect x="506.18" y="451.50" width="5.0" height="5.0" fill="#4c7c58" stroke="#46718a" stroke-width="1"/>
<rect x="508.36" y="456.50" width="5.0" height="5.0" fill="#4c7c58" stroke="#46718a" stroke-width="1"/>
<rect x="510.55" y="459.50" width="5.0" height="5.0" fill="#4c7c58" stroke="#46718a" stroke-width="1"/>
<rect x="512.74" y="463.50" width="5.0" height="5.0" fill="#4c7c58" stroke="#46718a" stroke-width="1"/>
<rect x="514.92" y="471.50" width="5.0" height="5.0" fill="#4c7c58" stroke="#46718a" stroke-width="1"/>
<rect x="517.11" y="476.50" width="5.0" height="5.0" fill="#4c7c58" stroke="#46718a" stroke-width="1"/>
<rect x="519.30" y="480.50" width="5.0" height="5.0" fill="#4c7c58" stroke="#46718a" stroke-width="1"/>
<rect x="521.49" y="482.50" width="5.0" height="5.0" fill="#4c7c58" stroke="#46718a" stroke-width="1"/>
<rect x="523.67" y="486.50" width="5.0" height="5.0" fill="#4c7c58" stroke="#46718a" stroke-width="1"/>
<rect x="525.86" y="484.50" width="5.0" height="5.0" fill="#4c7c58" stroke="#46718a" stroke-width="1"/>
<rect x="528.05" y="481.50" width="5.0" height="5.0" fill="#4c7c58" stroke="#46718a" stroke-width="1"/>
<rect x="530.24" y="484.50" width="5.0" height="5.0" fill="#4c7c58" stroke="#46718a" stroke-width="1"/>
<rect x="532.42" y="487.50" width="5.0" height="5.0" fill="#4c7c58" stroke="#46718a" stroke-width="1"/>
<rect x="534.61" y="487.50" width="5.0" height="5.0" fill="#4c7c58" stroke="#46718a" stroke-width="1"/>
<rect x="536.80" y="488.50" width="5.0" height="5.0" fill="#4c7c58" stroke="#46718a" stroke-width="1"/>
<rect x="538.99" y="489.50" width="5.0" height="5.0" fill="#4c7c58" stroke="#46718a" stroke-width="1"/>
<rect x="541.17" y="491.50" width="5.0" height="5.0" fill="#4c7c58" stroke="#46718a" stroke-width="1"/>
<rect x="543.36" y="493.50" width="5.0" height="5.0" fill="#4c7c58" stroke="#46718a" stroke-width="1"/>
<rect x="545.55" y="494.50" width="5.0" height="5.0" fill="#4c7c58" stroke="#46718a" stroke-width="1"/>
<rect x="547.74" y="497.50" width="5.0" height="5.0" fill="#4c7c58" stroke="#46718a" stroke-width="1"/>
<rect x="549.92" y="500.50" width="5.0" height="5.0" fill="#4c7c58" stroke="#46718a" stroke-width="1"/>
<rect x="552.11" y="502.50" width="5.0" height="5.0" fill="#4c7c58" stroke="#46718a" stroke-width="1"/>
<rect x="554.30" y="504.50" width="5.0" height="5.0" fill="#4c7c58" stroke="#46718a" stroke-width="1"/>
<rect x="556.49" y="504.50" width="5.0" height="5.0" fill="#4c7c58" stroke="#46718a" stroke-width="1"/>
<rect x="558.67" y="505.50" width="5.0" height="5.0" fill="#4c7c58" stroke="#46718a" stroke-width="1"/>
<rect x="560.86" y="505.50" width="5.0" height="5.0" fill="#4c7c58" stroke="#46718a" stroke-width="1"/>
<rect x="563.05" y="505.50" width="5.0" height="5.0" fill="#4c7c58" stroke="#46718a" stroke-width="1"/>
<rect x="565.24" y="506.50" width="5.0" height="5.0" fill="#4c7c58" stroke="#46718a" stroke-width="1"/>
<rect x="567.42" y="506.50" width="5.0" height="5.0" fill="#4c7c58" stroke="#46718a" stroke-width="1"/>
<rect x="569.61" y="504.50" width="5.0" height="5.0" fill="#4c7c58" stroke="#46718a" stroke-width="1"/>
<rect x="571.80" y="502.50" width="5.0" height="5.0" fill="#4c7c58" stroke="#46718a" stroke-width="1"/>
<rect x="573.99" y="502.50" width="5.0" height="5.0" fill="#4c7c58" stroke="#46718a" stroke-width="1"/>
<rect x="576.17" y="502.50" width="5.0" height="5.0" fill="#4c7c58" stroke="#46718a" stroke-width="1"/>
<rect x="578.36" y="503.50" width="5.0" height="5.0" fill="#4c7c58" stroke="#46718a" stroke-width="1"/>
<rect x="580.55" y="504.50" width="5.0" height="5.0" fill="#4c7c58" stroke="#46718a" stroke-width="1"/>
<rect x="582.74" y="505.50" width="5.0" height="5.0" fill="#4c7c58" stroke="#46718a" stroke-width="1"/>
<rect x="584.92" y="505.50" width="5.0" height="5.0" fill="#4c7c58" stroke="#46718a" stroke-width="1"/>
<rect x="587.11" y="506.50" width="5.0" height="5.0" fill="#4c7c58" stroke="#46718a" stroke-width="1"/>
<rect x="589.30" y="506.50" width="5.0" height="5.0" fill="#4c7c58" stroke="#46718a" stroke-width="1"/>
<rect x="591.49" y="508.00" width="5.0" height="5.0" fill="#4c7c58" stroke="#46718a" stroke-width="1"/>
<rect x="593.67" y="508.00" width="5.0" height="5.0" fill="#4c7c58" stroke="#46718a" stroke-width="1"/>
<rect x="595.86" y="508.00" width="5.0" height="5.0" fill="#4c7c58" stroke="#46718a" stroke-width="1"/>
<rect x="598.05" y="508.00" width="5.0" height="5.0" fill="#4c7c58" stroke="#46718a" stroke-width="1"/>
<rect x="600.24" y="508.00" width="5.0" height="5.0" fill="#4c7c58" stroke="#46718a" stroke-width="1"/>
<rect x="602.42" y="508.00" width="5.0" height="5.0" fill="#4c7c58" stroke="#46718a" stroke-width="1"/>
<rect x="604.61" y="508.00" width="5.0" height="5.0" fill="#4c7c58" stroke="#46718a" stroke-width="1"/>
<rect x="606.80" y="508.00" width="5.0" height="5.0" fill="#4c7c58" stroke="#46718a" stroke-width="1"/>
<rect x="608.99" y="508.00" width="5.0" height="5.0" fill="#4c7c58" stroke="#46718a" stroke-width="1"/>
<rect x="611.17" y="508.00" width="5.0" height="5.0" fill="#4c7c58" stroke="#46718a" stroke-width="1"/>
<rect x="613.36" y="508.00" width="5.0" height="5.0" fill="#4c7c58" stroke="#46718a" stroke-width="1"/>
<rect x="615.55" y="508.00" width="5.0" height="5.0" fill="#4c7c58" stroke="#46718a" stroke-width="1"/>
<rect x="617.74" y="508.00" width="5.0" height="5.0" fill="#4c7c58" stroke="#46718a" stroke-width="1"/>
<rect x="619.92" y="508.00" width="5.0" height="5.0" fill="#4c7c58" stroke="#46718a" stroke-width="1"/>
<rect x="622.11" y="508.00" width="5.0" height="5.0" fill="#4c7c58" stroke="#46718a" stroke-width="1"/>
<rect x="624.30" y="508.00" width="5.0" height="5.0" fill="#4c7c58" stroke="#46718a" stroke-width="1"/>
<rect x="626.49" y="508.00" width="5.0" height="5.0" fill="#4c7c58" stroke="#46718a" stroke-width="1"/>
<rect x="628.67" y="508.00" width="5.0" height="5.0" fill="#4c7c58" stroke="#46718a" stroke-width="1"/>
<rect x="630.86" y="507.50" width="5.0" height="5.0" fill="#4c7c58" stroke="#46718a" stroke-width="1"/>
<rect x="633.05" y="506.50" width="5.0" height="5.0" fill="#4c7c58" stroke="#46718a" stroke-width="1"/>
<rect x="635.24" y="505.00" width="5.0" height="5.0" fill="#4c7c58" stroke="#46718a" stroke-width="1"/>
<rect x="637.42" y="503.00" width="5.0" height="5.0" fill="#4c7c58" stroke="#46718a" stroke-width="1"/>
<rect x="639.61" y="500.50" width="5.0" height="5.0" fill="#4c7c58" stroke="#46718a" stroke-width="1"/>
<rect x="641.80" y="496.50" width="5.0" height="5.0" fill="#4c7c58" stroke="#46718a" stroke-width="1"/>
<rect x="643.99" y="494.50" width="5.0" height="5.0" fill="#4c7c58" stroke="#46718a" stroke-width="1"/>
<rect x="646.17" y="491.50" width="5.0" height="5.0" fill="#4c7c58" stroke="#46718a" stroke-width="1"/>
<rect x="648.36" y="485.50" width="5.0" height="5.0" fill="#4c7c58" stroke="#46718a" stroke-width="1"/>
<rect x="650.55" y="476.50" width="5.0" height="5.0" fill="#4c7c58" stroke="#46718a" stroke-width="1"/>
<rect x="652.74" y="471.50" width="5.0" height="5.0" fill="#4c7c58" stroke="#46718a" stroke-width="1"/>
<rect x="654.92" y="468.50" width="5.0" height="5.0" fill="#4c7c58" stroke="#46718a" stroke-width="1"/>
<rect x="657.11" y="465.50" width="5.0" height="5.0" fill="#4c7c58" stroke="#46718a" stroke-width="1"/>
<rect x="659.30" y="459.50" width="5.0" height="5.0" fill="#4c7c58" stroke="#46718a" stroke-width="1"/>
<rect x="661.49" y="454.50" width="5.0" height="5.0" fill="#4c7c58" stroke="#46718a" stroke-width="1"/>
<rect x="663.67" y="451.50" width="5.0" height="5.0" fill="#4c7c58" stroke="#46718a" stroke-width="1"/>
<rect x="665.86" y="446.50" width="5.0" height="5.0" fill="#4c7c58" stroke="#46718a" stroke-width="1"/>
<rect x="668.05" y="440.50" width="5.0" height="5.0" fill="#4c7c58" stroke="#46718a" stroke-width="1"/>
<rect x="670.24" y="440.50" width="5.0" height="5.0" fill="#4c7c58" stroke="#46718a" stroke-width="1"/>
<rect x="672.42" y="440.50" width="5.0" height="5.0" fill="#4c7c58" stroke="#46718a" stroke-width="1"/>
<rect x="674.61" y="441.50" width="5.0" height="5.0" fill="#4c7c58" stroke="#46718a" stroke-width="1"/>
<rect x="676.80" y="442.50" width="5.0" height="5.0" fill="#4c7c58" stroke="#46718a" stroke-width="1"/>
<rect x="678.99" y="443.50" width="5.0" height="5.0" fill="#4c7c58" stroke="#46718a" stroke-width="1"/>
<rect x="681.17" y="442.50" width="5.0" height="5.0" fill="#4c7c58" stroke="#46718a" stroke-width="1"/>
<rect x="683.36" y="440.50" width="5.0" height="5.0" fill="#4c7c58" stroke="#46718a" stroke-width="1"/>
<rect x="685.55" y="437.50" width="5.0" height="5.0" fill="#4c7c58" stroke="#46718a" stroke-width="1"/>
<rect x="687.74" y="426.50" width="5.0" height="5.0" fill="#4c7c58" stroke="#46718a" stroke-width="1"/>
<rect x="689.92" y="425.50" width="5.0" height="5.0" fill="#4c7c58" stroke="#46718a" stroke-width="1"/>
<rect x="692.11" y="425.50" width="5.0" height="5.0" fill="#4c7c58" stroke="#46718a" stroke-width="1"/>
<rect x="694.30" y="415.50" width="5.0" height="5.0" fill="#4c7c58" stroke="#46718a" stroke-width="1"/>
<rect x="696.49" y="396.50" width="5.0" height="5.0" fill="#4c7c58" stroke="#46718a" stroke-width="1"/>
<rect x="698.67" y="387.50" width="5.0" height="5.0" fill="#4c7c58" stroke="#46718a" stroke-width="1"/>
<rect x="700.86" y="381.50" width="5.0" height="5.0" fill="#4c7c58" stroke="#46718a" stroke-width="1"/>
<rect x="703.05" y="369.50" width="5.0" height="5.0" fill="#4c7c58" stroke="#46718a" stroke-width="1"/>
<rect x="705.24" y="360.50" width="5.0" height="5.0" fill="#4c7c58" stroke="#46718a" stroke-width="1"/>
<rect x="707.42" y="354.50" width="5.0" height="5.0" fill="#4c7c58" stroke="#46718a" stroke-width="1"/>
<rect x="709.61" y="353.50" width="5.0" height="5.0" fill="#4c7c58" stroke="#46718a" stroke-width="1"/>
<rect x="711.80" y="353.50" width="5.0" height="5.0" fill="#4c7c58" stroke="#46718a" stroke-width="1"/>
<rect x="713.99" y="355.50" width="5.0" height="5.0" fill="#4c7c58" stroke="#46718a" stroke-width="1"/>
<rect x="716.17" y="360.50" width="5.0" height="5.0" fill="#4c7c58" stroke="#46718a" stroke-width="1"/>
<rect x="718.36" y="378.50" width="5.0" height="5.0" fill="#4c7c58" stroke="#46718a" stroke-width="1"/>
<rect x="720.55" y="364.50" width="5.0" height="5.0" fill="#4c7c58" stroke="#46718a" stroke-width="1"/>
<rect x="722.74" y="379.50" width="5.0" height="5.0" fill="#4c7c58" stroke="#46718a" stroke-width="1"/>
<rect x="724.92" y="380.50" width="5.0" height="5.0" fill="#4c7c58" stroke="#46718a" stroke-width="1"/>
<rect x="727.11" y="382.50" width="5.0" height="5.0" fill="#4c7c58" stroke="#46718a" stroke-width="1"/>
<rect x="729.30" y="387.50" width="5.0" height="5.0" fill="#4c7c58" stroke="#46718a" stroke-width="1"/>
<rect x="731.49" y="404.50" width="5.0" height="5.0" fill="#4c7c58" stroke="#46718a" stroke-width="1"/>
<rect x="733.67" y="407.00" width="5.0" height="5.0" fill="#4c7c58" stroke="#46718a" stroke-width="1"/>
<rect x="735.86" y="411.00" width="5.0" height="5.0" fill="#4c7c58" stroke="#46718a" stroke-width="1"/>
<rect x="738.05" y="430.50" width="5.0" height="5.0" fill="#4c7c58" stroke="#46718a" stroke-width="1"/>
<rect x="740.24" y="427.50" width="5.0" height="5.0" fill="#4c7c58" stroke="#46718a" stroke-width="1"/>
<rect x="742.42" y="424.50" width="5.0" height="5.0" fill="#4c7c58" stroke="#46718a" stroke-width="1"/>
<rect x="744.61" y="427.50" width="5.0" height="5.0" fill="#4c7c58" stroke="#46718a" stroke-width="1"/>
<rect x="746.80" y="436.50" width="5.0" height="5.0" fill="#4c7c58" stroke="#46718a" stroke-width="1"/>
<rect x="748.99" y="452.50" width="5.0" height="5.0" fill="#4c7c58" stroke="#46718a" stroke-width="1"/>
<rect x="751.17" y="453.50" width="5.0" height="5.0" fill="#4c7c58" stroke="#46718a" stroke-width="1"/>
<rect x="753.36" y="453.50" width="5.0" height="5.0" fill="#4c7c58" stroke="#46718a" stroke-width="1"/>
<rect x="755.55" y="449.50" width="5.0" height="5.0" fill="#4c7c58" stroke="#46718a" stroke-width="1"/>
<rect x="757.74" y="446.50" width="5.0" height="5.0" fill="#4c7c58" stroke="#46718a" stroke-width="1"/>
<rect x="759.92" y="443.50" width="5.0" height="5.0" fill="#4c7c58" stroke="#46718a" stroke-width="1"/>
<rect x="762.11" y="452.50" width="5.0" height="5.0" fill="#4c7c58" stroke="#46718a" stroke-width="1"/>
<rect x="764.30" y="458.50" width="5.0" height="5.0" fill="#4c7c58" stroke="#46718a" stroke-width="1"/>
<rect x="766.49" y="449.50" width="5.0" height="5.0" fill="#4c7c58" stroke="#46718a" stroke-width="1"/>
<rect x="768.67" y="445.50" width="5.0" height="5.0" fill="#4c7c58" stroke="#46718a" stroke-width="1"/>
<rect x="770.86" y="443.50" width="5.0" height="5.0" fill="#4c7c58" stroke="#46718a" stroke-width="1"/>
<rect x="773.05" y="439.50" width="5.0" height="5.0" fill="#4c7c58" stroke="#46718a" stroke-width="1"/>
<rect x="775.24" y="437.50" width="5.0" height="5.0" fill="#4c7c58" stroke="#46718a" stroke-width="1"/>
<rect x="777.42" y="432.50" width="5.0" height="5.0" fill="#4c7c58" stroke="#46718a" stroke-width="1"/>
<rect x="779.61" y="431.50" width="5.0" height="5.0" fill="#4c7c58" stroke="#46718a" stroke-width="1"/>
<rect x="781.80" y="434.50" width="5.0" height="5.0" fill="#4c7c58" stroke="#46718a" stroke-width="1"/>
<rect x="783.99" y="438.50" width="5.0" height="5.0" fill="#4c7c58" stroke="#46718a" stroke-width="1"/>
<rect x="786.17" y="445.50" width="5.0" height="5.0" fill="#4c7c58" stroke="#46718a" stroke-width="1"/>
<rect x="788.36" y="448.50" width="5.0" height="5.0" fill="#4c7c58" stroke="#46718a" stroke-width="1"/>
<rect x="790.55" y="451.50" width="5.0" height="5.0" fill="#4c7c58" stroke="#46718a" stroke-width="1"/>
<rect x="792.74" y="455.50" width="5.0" height="5.0" fill="#4c7c58" stroke="#46718a" stroke-width="1"/>
<rect x="794.92" y="463.50" width="5.0" height="5.0" fill="#4c7c58" stroke="#46718a" stroke-width="1"/>
<rect x="797.11" y="464.50" width="5.0" height="5.0" fill="#4c7c58" stroke="#46718a" stroke-width="1"/>
<rect x="799.30" y="466.50" width="5.0" height="5.0" fill="#4c7c58" stroke="#46718a" stroke-width="1"/>
<rect x="801.49" y="471.50" width="5.0" height="5.0" fill="#4c7c58" stroke="#46718a" stroke-width="1"/>
<rect x="803.67" y="473.50" width="5.0" height="5.0" fill="#4c7c58" stroke="#46718a" stroke-width="1"/>
<rect x="805.86" y="475.50" width="5.0" height="5.0" fill="#4c7c58" stroke="#46718a" stroke-width="1"/>
<rect x="808.05" y="480.50" width="5.0" height="5.0" fill="#4c7c58" stroke="#46718a" stroke-width="1"/>
<rect x="810.24" y="479.50" width="5.0" height="5.0" fill="#4c7c58" stroke="#46718a" stroke-width="1"/>
<rect x="812.42" y="478.50" width="5.0" height="5.0" fill="#4c7c58" stroke="#46718a" stroke-width="1"/>
<rect x="814.61" y="478.50" width="5.0" height="5.0" fill="#4c7c58" stroke="#46718a" stroke-width="1"/>
<rect x="816.80" y="479.50" width="5.0" height="5.0" fill="#4c7c58" stroke="#46718a" stroke-width="1"/>
<rect x="818.99" y="481.50" width="5.0" height="5.0" fill="#4c7c58" stroke="#46718a" stroke-width="1"/>
<rect x="821.17" y="483.50" width="5.0" height="5.0" fill="#4c7c58" stroke="#46718a" stroke-width="1"/>
<rect x="823.36" y="487.50" width="5.0" height="5.0" fill="#4c7c58" stroke="#46718a" stroke-width="1"/>
<rect x="825.55" y="488.50" width="5.0" height="5.0" fill="#4c7c58" stroke="#46718a" stroke-width="1"/>
<rect x="827.74" y="489.50" width="5.0" height="5.0" fill="#4c7c58" stroke="#46718a" stroke-width="1"/>
<rect x="829.92" y="489.50" width="5.0" height="5.0" fill="#4c7c58" stroke="#46718a" stroke-width="1"/>
<rect x="832.11" y="490.00" width="5.0" height="5.0" fill="#4c7c58" stroke="#46718a" stroke-width="1"/>
<rect x="834.30" y="490.20" width="5.0" height="5.0" fill="#4c7c58" stroke="#46718a" stroke-width="1"/>
</svg></body></html>
